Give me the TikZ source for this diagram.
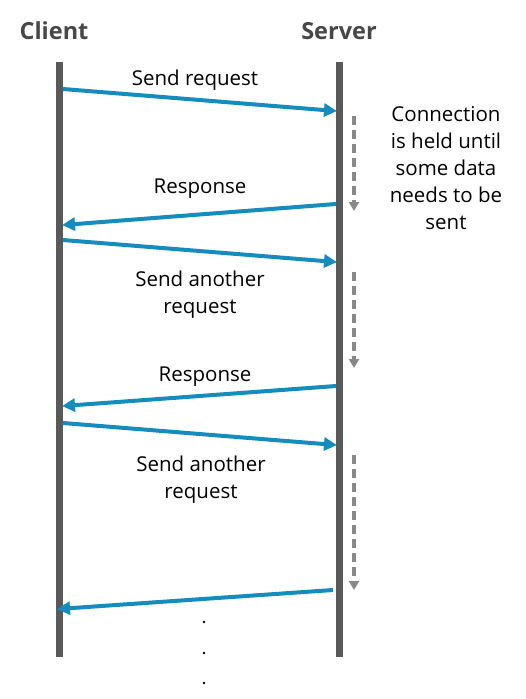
\documentclass[tikz,border=0pt]{standalone}
\usepackage{fontspec}
\setmainfont{Open Sans}
\usetikzlibrary{arrows.meta}

\definecolor{msgblue}{RGB}{20,140,190}
\definecolor{lifegrey}{RGB}{89,89,89}
\definecolor{waitgrey}{RGB}{136,136,136}

\tikzset{
  lifeline/.style={line width=7pt, lifegrey},
  msg/.style={line width=4pt, msgblue, -{Triangle[length=13pt,width=13pt]}, shorten >=-1pt},
  wait/.style={line width=3.5pt, waitgrey, dash pattern=on 9pt off 5pt, -{Triangle[length=9pt,width=10pt]}},
  lbl/.style={font=\fontsize{20.5}{27}\selectfont, align=center, inner sep=0pt},
  head/.style={font=\fontsize{23.5}{28}\selectfont\bfseries, text=lifegrey!80!black, inner sep=0pt}
}

\begin{document}
\begin{tikzpicture}[x=1pt,y=-1pt]
  \useasboundingbox (0,0) rectangle (525,699);

  % lifelines
  \node[head] (client) at (54,31) {Client};
  \node[head] (server) at (339,31) {Server};
  \coordinate (ctop) at (59.5,62);
  \coordinate (cbot) at (59.5,657);
  \coordinate (stop) at (339.5,62);
  \coordinate (sbot) at (339.5,657);
  \draw[lifeline] (ctop) -- (cbot);
  \draw[lifeline] (stop) -- (sbot);

  % message end points
  \coordinate (c1) at (63,89);    \coordinate (s1) at (336,111);
  \coordinate (s2) at (336,204);  \coordinate (c2) at (63,225);
  \coordinate (c3) at (63,240);   \coordinate (s3) at (336,262);
  \coordinate (s4) at (336,386);  \coordinate (c4) at (63,406);
  \coordinate (c5) at (63,423);   \coordinate (s5) at (336,445);
  \coordinate (s6) at (333,590);  \coordinate (c6) at (58,609);

  \draw[msg] (c1) -- (s1);
  \draw[msg] (s2) -- (c2);
  \draw[msg] (c3) -- (s3);
  \draw[msg] (s4) -- (c4);
  \draw[msg] (c5) -- (s5);
  \draw[msg] (s6) -- (c6);

  % labels
  \node[lbl] (req1) at (195,80) {Send request};
  \node[lbl] (resp1) at (200,189) {Response};
  \node[lbl] (req2) at (200,295) {Send another\\request};
  \node[lbl] (resp2) at (205,377) {Response};
  \node[lbl] (req3) at (201,480) {Send another\\request};
  \node[lbl] (held) at (446,168) {Connection\\is held until\\some data\\needs to be\\sent};

  % waiting on the server
  \coordinate (w1a) at (354,116);  \coordinate (w1b) at (354,211);
  \coordinate (w2a) at (354,272);  \coordinate (w2b) at (354,368);
  \coordinate (w3a) at (354,455);  \coordinate (w3b) at (354,590);
  \draw[wait] (w1a) -- (w1b);
  \draw[wait] (w2a) -- (w2b);
  \draw[wait] (w3a) -- (w3b);

  % more to come
  \foreach \y in {622,653,683}
    \fill (204,\y) circle (1.3);
\end{tikzpicture}
\end{document}
